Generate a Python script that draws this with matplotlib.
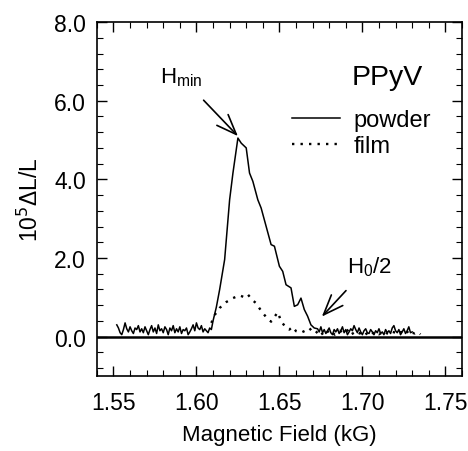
import numpy as np
import matplotlib
matplotlib.use("Agg")
import matplotlib.pyplot as plt
from matplotlib.ticker import MultipleLocator, FormatStrFormatter

plt.rcParams['font.family'] = ['Liberation Sans', 'DejaVu Sans']

# powder trace: noisy baseline, the resonance peak, noisy tail
powder_base = [0.30, 0.22, 0.10, 0.05, 0.18, 0.35, 0.20, 0.12, 0.25, 0.15,
               0.08, 0.22, 0.18, 0.28, 0.12, 0.20, 0.10, 0.25, 0.15, 0.05,
               0.18, 0.28, 0.12, 0.22, 0.08, 0.30, 0.15, 0.20, 0.10, 0.25,
               0.18, 0.05, 0.22, 0.15, 0.28, 0.10, 0.20, 0.12, 0.25, 0.08,
               0.18, 0.15, 0.22, 0.05, 0.12, 0.20, 0.30, 0.15, 0.35, 0.22,
               0.18, 0.28, 0.12, 0.20, 0.15, 0.10, 0.22, 0.18]
powder_peak_x = [1.610, 1.612, 1.614, 1.617, 1.620, 1.622, 1.625, 1.627, 1.630,
                 1.632, 1.634, 1.637, 1.639, 1.642, 1.645, 1.647, 1.650, 1.652,
                 1.654, 1.657, 1.659, 1.661, 1.663, 1.665, 1.667, 1.669, 1.671]
powder_peak_y = [0.40, 0.75, 1.20, 1.96, 3.48, 4.16, 5.05, 4.92, 4.80,
                 4.16, 3.95, 3.48, 3.27, 2.80, 2.34, 2.30, 1.79, 1.66,
                 1.32, 1.24, 0.77, 0.81, 0.98, 0.69, 0.52, 0.30, 0.22]
powder_tail = [0.20, 0.12, 0.25, 0.10, 0.18, 0.08, 0.15, 0.22, 0.10, 0.05,
               0.18, 0.12, 0.20, 0.08, 0.15, 0.25, 0.10, 0.18, 0.05, 0.12,
               0.20, 0.15, 0.28, 0.18, 0.10, 0.22, 0.12, 0.05, 0.15, 0.20,
               0.10, 0.08, 0.18, 0.12, 0.05, 0.15, 0.10, 0.20, 0.08, 0.12,
               0.05, 0.18, 0.10, 0.15, 0.08, 0.22, 0.28, 0.15, 0.10, 0.18,
               0.05, 0.12, 0.20, 0.08, 0.15, 0.25, 0.10, 0.12]

# film trace
film_peak_x = [1.609, 1.611, 1.614, 1.618, 1.622, 1.626, 1.629, 1.631, 1.634,
               1.636, 1.638, 1.640, 1.642, 1.645, 1.647, 1.649, 1.651, 1.653,
               1.656, 1.658, 1.660, 1.663, 1.666, 1.668]
film_peak_y = [0.35, 0.55, 0.73, 0.88, 0.98, 1.05, 1.00, 1.07, 0.92,
               0.85, 0.72, 0.60, 0.50, 0.38, 0.50, 0.62, 0.40, 0.28,
               0.18, 0.25, 0.14, 0.10, 0.16, 0.22]
film_tail = [0.12, 0.08, 0.15, 0.05, 0.10, 0.18, 0.08, 0.12, 0.05, 0.10,
             0.15, 0.08, 0.12, 0.18, 0.06, 0.10, 0.14, 0.08, 0.12, 0.05,
             0.10, 0.15, 0.08, 0.12, 0.06, 0.10, 0.14, 0.08, 0.05, 0.12,
             0.10, 0.06, 0.12, 0.08, 0.15, 0.05, 0.10, 0.08, 0.12, 0.06]

x_ticks = [1.55, 1.60, 1.65, 1.70, 1.75]
y_ticks = [0.0, 2.0, 4.0, 6.0, 8.0]

px = np.concatenate([np.linspace(1.552, 1.609, len(powder_base)), powder_peak_x,
                     np.linspace(1.673, 1.730, len(powder_tail))])
py = np.concatenate([powder_base, powder_peak_y, powder_tail])
fx = np.concatenate([film_peak_x, np.linspace(1.670, 1.735, len(film_tail))])
fy = np.concatenate([film_peak_y, film_tail])

fig = plt.figure(figsize=(4.68, 4.52), dpi=100)
ax = fig.add_axes([0.207, 0.166, 0.780, 0.783])

ax.plot(px, py, color='black', lw=1.1, label='powder')
ax.plot(fx, fy, color='black', lw=1.7, linestyle=(0, (1, 2.6)), label='film')
ax.axhline(0, color='black', lw=1.8)

ax.set_xlim(1.54, 1.76)
ax.set_ylim(-1.0, 8.0)
ax.set_xticks(x_ticks)
ax.set_yticks(y_ticks)
ax.xaxis.set_major_formatter(FormatStrFormatter('%.2f'))
ax.yaxis.set_major_formatter(FormatStrFormatter('%.1f'))
ax.xaxis.set_minor_locator(MultipleLocator(0.01))
ax.yaxis.set_minor_locator(MultipleLocator(0.4))
ax.tick_params(which='both', direction='in', top=True, right=True, labelsize=16.5)
ax.tick_params(which='major', length=7, width=1.0)
ax.tick_params(which='minor', length=4, width=0.8)
ax.tick_params(axis='x', pad=11)
ax.tick_params(axis='y', pad=8)
for s in ax.spines.values():
    s.set_linewidth(1.2)

ax.set_xlabel('Magnetic Field (kG)', fontsize=16, labelpad=7)
ax.set_ylabel('10$^5$\u0394L/L', fontsize=16.5, labelpad=8)

ax.text(1.7148, 6.6, 'PPyV', fontsize=20.5, ha='center', va='center')
ax.annotate('H$_{\\mathregular{min}}$', xy=(1.625, 5.1), xytext=(1.591, 6.6),
            fontsize=16, ha='center', va='center',
            arrowprops=dict(arrowstyle='->,head_length=0.9,head_width=0.35',
                            color='black', lw=1.2, shrinkA=9, shrinkB=0))
ax.annotate('H$_{\\mathregular{0}}$/2', xy=(1.6756, 0.51), xytext=(1.704, 1.8),
            fontsize=16, ha='center', va='center',
            arrowprops=dict(arrowstyle='->,head_length=0.9,head_width=0.35',
                            color='black', lw=1.2, shrinkA=10, shrinkB=0))

ax.legend(loc='upper left', bbox_to_anchor=(0.51, 0.78), frameon=False,
          fontsize=17, handlelength=2.0, handletextpad=0.6, labelspacing=0.15,
          borderaxespad=0)

fig.savefig('out.png', dpi=100)
